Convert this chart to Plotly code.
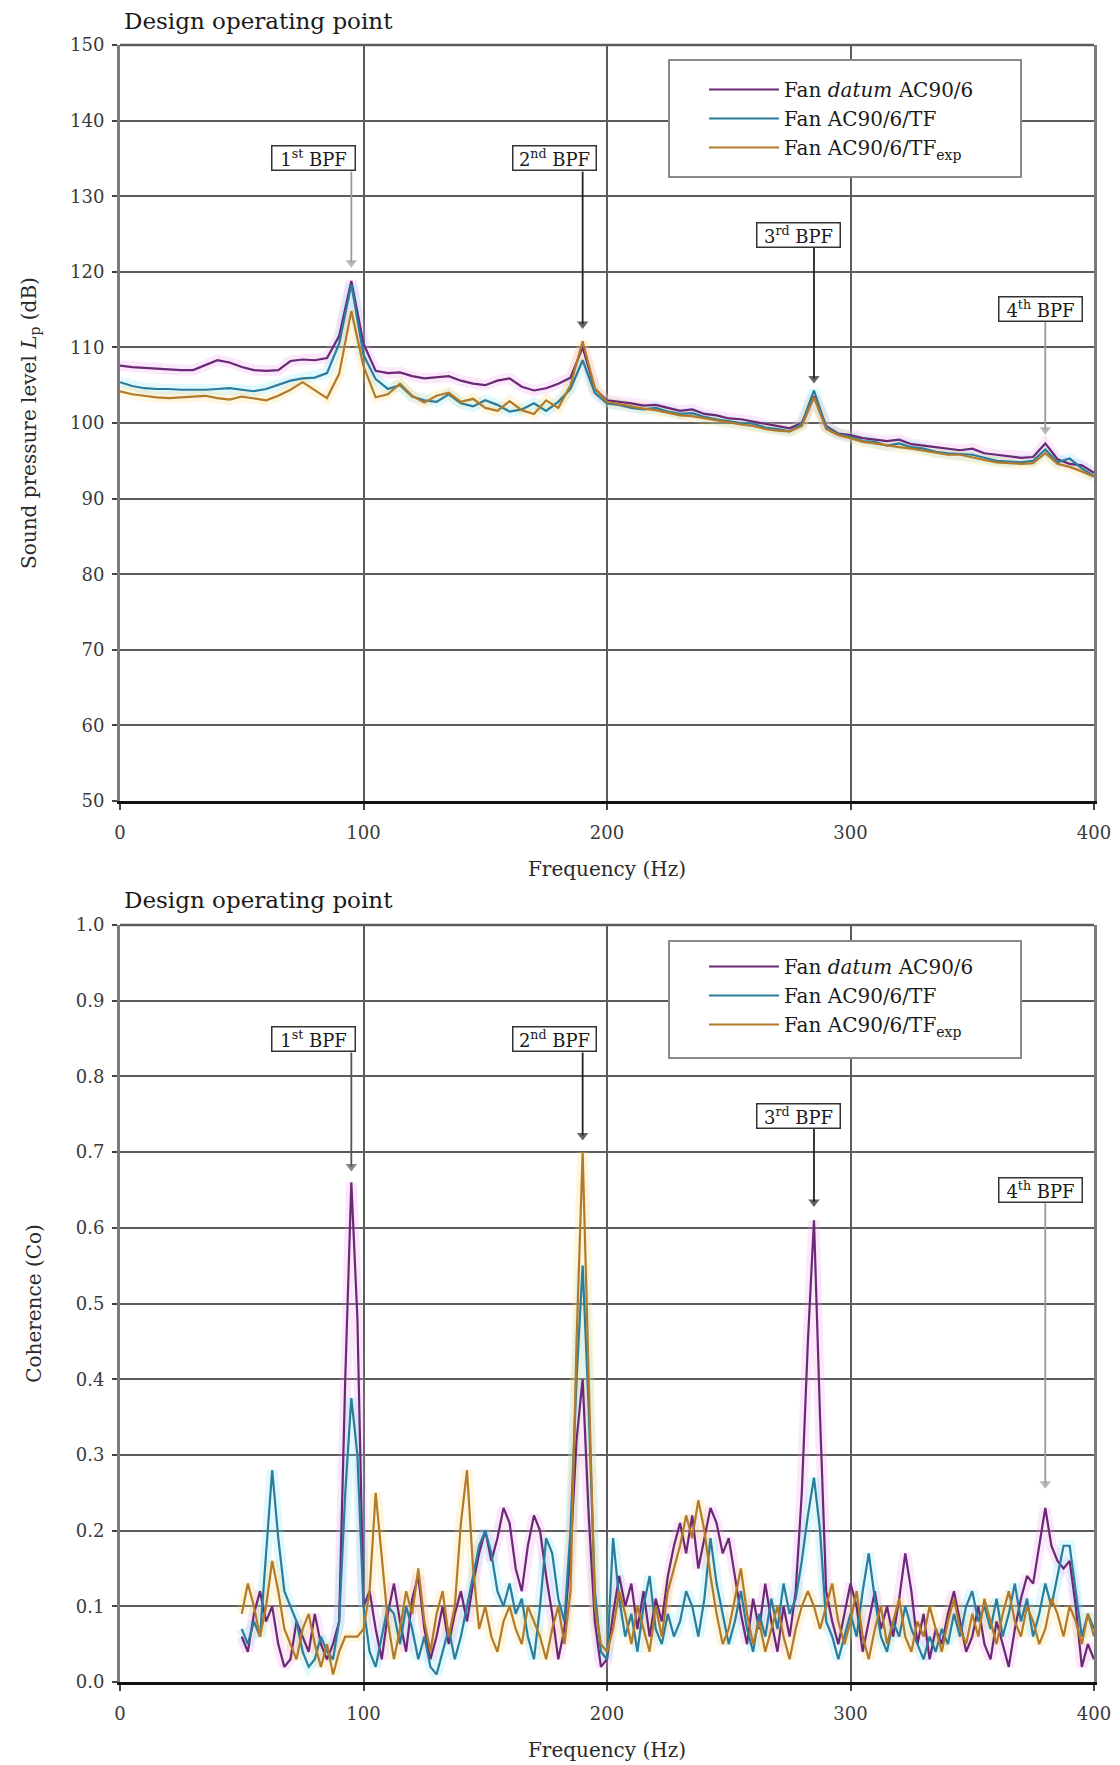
import plotly.graph_objects as go

FONT = "DejaVu Serif"

# ---------------- sound pressure level spectra (5 Hz bins, 0-400 Hz) ----------------
freq_spl = [5 * i for i in range(81)]

spl_datum = [
    107.6, 107.4, 107.3, 107.2, 107.1, 107.0, 107.0, 107.6, 108.3, 108.0,
    107.4, 107.0, 106.9, 107.0, 108.2, 108.4, 108.3, 108.6, 111.5, 118.8,
    110.5, 106.9, 106.6, 106.7, 106.2, 105.9, 106.0, 106.2, 105.6, 105.2,
    105.0, 105.6, 105.9, 104.8, 104.3, 104.6, 105.2, 106.0, 110.0, 104.5,
    103.0, 102.8, 102.6, 102.3, 102.4, 102.0, 101.6, 101.8, 101.2, 101.0,
    100.6, 100.5, 100.2, 99.8, 99.6, 99.3, 100.0, 103.5, 99.6, 98.6,
    98.4, 98.0, 97.8, 97.6, 97.8, 97.2, 97.0, 96.8, 96.6, 96.4,
    96.6, 96.0, 95.8, 95.6, 95.4, 95.5, 97.3, 95.2, 94.6, 94.4,
    93.4,
]
spl_tf = [
    105.4, 104.9, 104.6, 104.5, 104.5, 104.4, 104.4, 104.4, 104.5, 104.6,
    104.4, 104.2, 104.5, 105.0, 105.6, 105.9, 106.0, 106.6, 110.5, 118.3,
    109.0, 105.8, 104.5, 105.0, 103.5, 103.0, 102.8, 103.8, 102.6, 102.2,
    103.0, 102.4, 101.5, 101.8, 102.6, 101.6, 102.8, 104.5, 108.3, 104.0,
    102.6, 102.4, 102.0, 101.8, 102.0, 101.5, 101.2, 101.3, 100.8, 100.5,
    100.2, 100.0, 99.9, 99.4, 99.2, 98.9, 99.9, 104.3, 99.5, 98.5,
    98.2, 97.6, 97.5, 97.0, 97.3, 96.8, 96.6, 96.2, 96.0, 95.9,
    95.8, 95.4, 95.0, 94.9, 94.8, 95.0, 96.5, 94.8, 95.3, 94.0,
    93.0,
]
spl_tfx = [
    104.2, 103.8, 103.6, 103.4, 103.3, 103.4, 103.5, 103.6, 103.3, 103.1,
    103.5, 103.2, 103.0, 103.6, 104.4, 105.4, 104.3, 103.3, 106.5, 114.8,
    107.5, 103.4, 103.8, 105.2, 103.6, 102.7, 103.6, 104.0, 102.8, 103.2,
    102.0, 101.6, 102.9, 101.7, 101.2, 103.0, 102.0, 105.0, 110.8, 104.6,
    102.8, 102.5, 102.1, 101.9, 101.7, 101.4, 101.0, 100.9, 100.6, 100.3,
    100.0, 99.8, 99.6, 99.2, 99.0, 98.9, 99.6, 103.4, 99.2, 98.4,
    98.0, 97.5, 97.3, 97.0, 96.8, 96.6, 96.3, 96.1, 95.8, 95.8,
    95.4, 95.1, 94.8, 94.7, 94.6, 94.7, 96.0, 94.6, 94.2, 93.6,
    92.9,
]

# ---------------- coherence spectra (2.5 Hz bins, 50-400 Hz) ----------------
freq_coh = [50 + 2.5 * i for i in range(141)]

coh_datum = [
    0.06, 0.04, 0.09, 0.12, 0.08, 0.10, 0.05, 0.02, 0.03, 0.08, 0.06, 0.04, 0.09, 0.05, 0.03, 0.05, 0.08, 0.40, 0.66, 0.48,
    0.10, 0.12, 0.07, 0.03, 0.09, 0.13, 0.08, 0.04, 0.11, 0.14, 0.07, 0.03, 0.06, 0.10, 0.05, 0.09, 0.12, 0.08, 0.13, 0.17,
    0.20, 0.16, 0.19, 0.23, 0.21, 0.15, 0.12, 0.18, 0.22, 0.20, 0.14, 0.09, 0.03, 0.07, 0.17, 0.32, 0.40, 0.22, 0.08, 0.02,
    0.03, 0.09, 0.14, 0.10, 0.13, 0.07, 0.12, 0.06, 0.11, 0.08, 0.14, 0.18, 0.21, 0.17, 0.22, 0.15, 0.19, 0.23, 0.21, 0.17,
    0.19, 0.14, 0.09, 0.05, 0.11, 0.07, 0.13, 0.08, 0.04, 0.10, 0.06, 0.12, 0.25, 0.45, 0.61, 0.35, 0.12, 0.08, 0.05, 0.09,
    0.13, 0.10, 0.04, 0.08, 0.12, 0.07, 0.10, 0.06, 0.11, 0.17, 0.12, 0.05, 0.09, 0.03, 0.07, 0.05, 0.09, 0.12, 0.08, 0.04,
    0.06, 0.10, 0.05, 0.03, 0.08, 0.05, 0.02, 0.07, 0.11, 0.14, 0.13, 0.18, 0.23, 0.18, 0.16, 0.15, 0.16, 0.10, 0.02, 0.05,
    0.03,
]
coh_tf = [
    0.07, 0.05, 0.08, 0.06, 0.17, 0.28, 0.19, 0.12, 0.10, 0.08, 0.04, 0.02, 0.03, 0.06, 0.04, 0.03, 0.08, 0.25, 0.375, 0.30,
    0.10, 0.04, 0.02, 0.06, 0.10, 0.09, 0.05, 0.10, 0.07, 0.03, 0.06, 0.02, 0.01, 0.04, 0.07, 0.03, 0.06, 0.10, 0.14, 0.18,
    0.20, 0.17, 0.12, 0.10, 0.13, 0.09, 0.11, 0.06, 0.03, 0.10, 0.19, 0.17, 0.11, 0.08, 0.20, 0.40, 0.55, 0.36, 0.12, 0.04,
    0.03, 0.19, 0.11, 0.06, 0.09, 0.04, 0.10, 0.14, 0.07, 0.05, 0.09, 0.06, 0.08, 0.12, 0.10, 0.06, 0.11, 0.19, 0.13, 0.09,
    0.05, 0.08, 0.12, 0.07, 0.04, 0.09, 0.06, 0.11, 0.07, 0.13, 0.09, 0.11, 0.16, 0.22, 0.27, 0.20, 0.08, 0.06, 0.03, 0.06,
    0.09, 0.06, 0.12, 0.17, 0.11, 0.06, 0.04, 0.08, 0.06, 0.10, 0.07, 0.05, 0.03, 0.06, 0.04, 0.07, 0.05, 0.09, 0.06, 0.10,
    0.12, 0.08, 0.10, 0.07, 0.11, 0.06, 0.09, 0.13, 0.08, 0.11, 0.06, 0.09, 0.13, 0.10, 0.14, 0.18, 0.18, 0.12, 0.06, 0.09,
    0.07,
]
coh_tfx = [
    0.09, 0.13, 0.10, 0.06, 0.10, 0.16, 0.12, 0.07, 0.05, 0.03, 0.07, 0.09, 0.05, 0.02, 0.05, 0.01, 0.04, 0.06, 0.06, 0.06,
    0.07, 0.12, 0.25, 0.16, 0.08, 0.03, 0.07, 0.12, 0.09, 0.15, 0.08, 0.04, 0.09, 0.12, 0.06, 0.10, 0.21, 0.28, 0.15, 0.07,
    0.10, 0.06, 0.04, 0.08, 0.10, 0.07, 0.05, 0.10, 0.08, 0.06, 0.03, 0.07, 0.10, 0.05, 0.12, 0.45, 0.70, 0.40, 0.10, 0.05,
    0.04, 0.07, 0.12, 0.09, 0.05, 0.10, 0.07, 0.04, 0.10, 0.06, 0.12, 0.15, 0.18, 0.22, 0.19, 0.24, 0.20, 0.14, 0.09, 0.05,
    0.07, 0.11, 0.15, 0.09, 0.05, 0.08, 0.04, 0.07, 0.10, 0.06, 0.03, 0.07, 0.10, 0.12, 0.10, 0.07, 0.10, 0.13, 0.08, 0.05,
    0.08, 0.12, 0.06, 0.03, 0.07, 0.10, 0.05, 0.08, 0.11, 0.06, 0.04, 0.08, 0.06, 0.10, 0.07, 0.04, 0.08, 0.11, 0.07, 0.05,
    0.09, 0.06, 0.11, 0.08, 0.05, 0.09, 0.12, 0.08, 0.06, 0.10, 0.08, 0.05, 0.07, 0.11, 0.09, 0.06, 0.10, 0.08, 0.05, 0.09,
    0.06,
]

series_names = ["Fan <i>datum</i> AC90/6", "Fan AC90/6/TF", "Fan AC90/6/TF<sub>exp</sub>"]
series_colors = ["#6a2877", "#2b7d9b", "#b37a2a"]
halo_colors = ["rgba(235,150,235,0.22)", "rgba(120,225,245,0.22)", "rgba(250,215,110,0.22)"]

# blade passing frequency markers: label, frequency, arrow tip / label centre per panel
bpf_labels = ["1<sup>st</sup> BPF", "2<sup>nd</sup> BPF", "3<sup>rd</sup> BPF", "4<sup>th</sup> BPF"]
bpf_freq = [95, 190, 285, 380]
bpf_label_freq = [79.5, 178.5, 278.5, 378]
spl_arrow_tip = [121.2, 113.1, 105.9, 99.1]
spl_label_y = [135.0, 135.0, 124.9, 115.1]
coh_arrow_tip = [0.681, 0.722, 0.634, 0.262]
coh_label_y = [0.849, 0.849, 0.748, 0.650]
spl_arrow_colors = ["#9a9a9a", "#222222", "#222222", "#9a9a9a"]
coh_arrow_colors = ["#555555", "#222222", "#222222", "#9a9a9a"]

fig = go.Figure()

panels = [
    ("x", "y", "legend", freq_spl, [spl_datum, spl_tf, spl_tfx]),
    ("x2", "y2", "legend2", freq_coh, [coh_datum, coh_tf, coh_tfx]),
]
for xa, ya, lg, fx, ys in panels:
    # soft colour fringe under each curve
    for vals, hc in zip(ys, halo_colors):
        fig.add_trace(go.Scatter(x=fx, y=vals, xaxis=xa, yaxis=ya, mode="lines",
                                 line=dict(color=hc, width=11), showlegend=False,
                                 hoverinfo="skip"))
    for vals, name, col in zip(ys, series_names, series_colors):
        fig.add_trace(go.Scatter(x=fx, y=vals, xaxis=xa, yaxis=ya, mode="lines",
                                 name=name, legend=lg,
                                 line=dict(color=col, width=2.2)))

# BPF pointer arrows: a vertical stem from the label box down to a filled head
for xa, ya, tips, label_y, half_box, acolors in [
    ("x", "y", spl_arrow_tip, spl_label_y, 1.75, spl_arrow_colors),
    ("x2", "y2", coh_arrow_tip, coh_label_y, 0.0175, coh_arrow_colors),
]:
    for f, tip, ly, ac in zip(bpf_freq, tips, label_y, acolors):
        fig.add_trace(go.Scatter(x=[f, f], y=[ly - half_box, tip], xaxis=xa, yaxis=ya,
                                 mode="lines+markers", showlegend=False, hoverinfo="skip",
                                 line=dict(color=ac, width=1.8),
                                 marker=dict(symbol="triangle-down", size=[0, 10],
                                             color=ac, line=dict(width=0))))

x_dom = [120 / 1120, 1094 / 1120]
top_dom = [(1765 - 801) / 1765, (1765 - 45) / 1765]
bot_dom = [(1765 - 1682) / 1765, (1765 - 925) / 1765]

tick_font = dict(family=FONT, size=18, color="#3a3a3a")
title_font = dict(family=FONT, size=20, color="#2a2a2a")

xcommon = dict(
    range=[0, 400], tickvals=[0, 100, 200, 300, 400], showgrid=True,
    gridcolor="#5c5c5c", gridwidth=2, zeroline=False, automargin=False,
    showline=True, linecolor="#111111", linewidth=2.5,
    ticks="outside", ticklen=6, tickcolor="#444444", tickwidth=1.5,
    tickfont=tick_font, ticklabelstandoff=8,
    title=dict(text="Frequency (Hz)", font=title_font, standoff=20),
)
ycommon = dict(
    showgrid=True, gridcolor="#5c5c5c", gridwidth=2, zeroline=False, automargin=False,
    showline=True, linecolor="#7c7c7c", linewidth=3, mirror=True,
    ticks="outside", ticklen=5, tickcolor="#444444", tickwidth=1.5,
    tickfont=tick_font, ticklabelstandoff=4,
)

fig.update_layout(
    width=1120, height=1765,
    margin=dict(l=0, r=0, t=0, b=0),
    paper_bgcolor="white", plot_bgcolor="white",
    font=dict(family=FONT, color="#222222"),
    xaxis=dict(domain=x_dom, anchor="y", **xcommon),
    yaxis=dict(domain=top_dom, anchor="x", range=[50, 150], dtick=10,
               title=dict(text="Sound pressure level <i>L</i><sub>p</sub> (dB)",
                          font=title_font, standoff=29),
               **ycommon),
    xaxis2=dict(domain=x_dom, anchor="y2", **xcommon),
    yaxis2=dict(domain=bot_dom, anchor="x2", range=[0, 1], dtick=0.1, tickformat=".1f",
                title=dict(text="Coherence (Co)", font=title_font, standoff=29),
                **ycommon),
    showlegend=True,
)

legend_style = dict(
    xanchor="left", yanchor="top", bgcolor="rgba(0,0,0,0)", borderwidth=0,
    font=dict(family=FONT, size=20, color="#1a1a1a"), itemwidth=70,
    tracegroupgap=0, itemclick=False, itemdoubleclick=False,
)
fig.update_layout(
    legend=dict(x=704 / 1120, y=(1765 - 70) / 1765, **legend_style),
    legend2=dict(x=704 / 1120, y=(1765 - 947) / 1765, **legend_style),
)

shapes = []
# legend frames and top borders of both panels
for y0, y1 in [(60, 177), (941, 1058)]:
    shapes.append(dict(type="rect", xref="paper", yref="paper", layer="above",
                       x0=669 / 1120, x1=1021 / 1120,
                       y0=(1765 - y1) / 1765, y1=(1765 - y0) / 1765,
                       fillcolor="white", line=dict(color="#8a8a8a", width=2)))
for xr, yr in [("x domain", "y domain"), ("x2 domain", "y2 domain")]:
    shapes.append(dict(type="line", xref=xr, yref=yr, x0=0, x1=1, y0=1, y1=1,
                       line=dict(color="#5c5c5c", width=2.5), layer="above"))
fig.update_layout(shapes=shapes)

annotations = []
for panel_title_y in [21, 900]:
    annotations.append(dict(text="Design operating point", xref="paper", yref="paper",
                            x=122 / 1120, y=(1765 - panel_title_y) / 1765,
                            xanchor="left", yanchor="middle", showarrow=False,
                            font=dict(family=FONT, size=23, color="#1a1a1a")))

for xa, ya, label_y in [("x", "y", spl_label_y), ("x2", "y2", coh_label_y)]:
    for lab, lf, ly in zip(bpf_labels, bpf_label_freq, label_y):
        annotations.append(dict(text=lab, x=lf, y=ly, xref=xa, yref=ya,
                                showarrow=False, xanchor="center", yanchor="middle",
                                font=dict(family=FONT, size=18, color="#1a1a1a"),
                                width=80, height=21, align="center", valign="middle",
                                bgcolor="white", bordercolor="#333333",
                                borderwidth=1.5, borderpad=1))
fig.update_layout(annotations=annotations)

fig.write_html("out.html")
